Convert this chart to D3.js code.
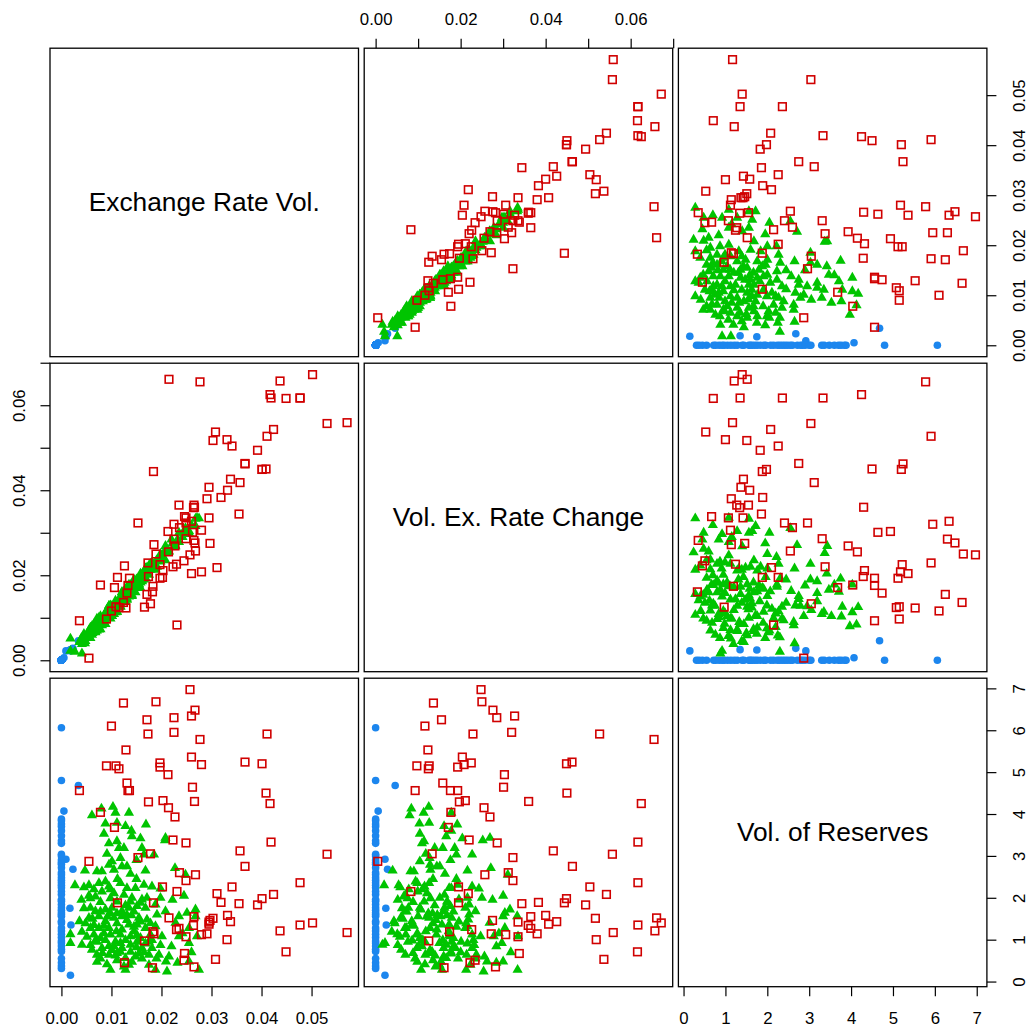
<!DOCTYPE html>
<html>
<head>
<meta charset="utf-8">
<script src="https://cdn.jsdelivr.net/npm/d3@7"></script>
<style>
  html, body { margin: 0; padding: 0; background: #fff; }
  svg { display: block; }
</style>
</head>
<body>
<svg id="chart" width="1030" height="1033"></svg>
<script>
// Variables of the scatterplot matrix, in row/column order
const variableNames = ["Exchange Rate Vol.", "Vol. Ex. Rate Change", "Vol. of Reserves"];

// Group 1 (blue dots)
const g1RateVol = [0.0018, 0.0019, 0.0017, 0.0023, 0.0009, 0.0005, 0.0034,
  0, 0, 0, 0, 0, 0, 0, 0, 0, 0, 0, 0, 0, 0, 0, 0, 0, 0, 0, 0, 0, 0, 0, 0,
  0, 0, 0, 0, 0, 0, 0, 0, 0, 0, 0, 0, 0, 0, 0, 0, 0, 0, 0, 0, 0, 0, 0, 0];
const g1RateChange = [0.0022, 0.0025, 0.0024, 0.0028, 0.0022, 0.0006, 0.0046,
  0, 0, 0, 0, 0, 0, 0, 0, 0, 0, 0, 0, 0, 0, 0, 0, 0, 0, 0, 0, 0, 0, 0, 0,
  0, 0, 0, 0, 0, 0, 0, 0, 0, 0, 0, 0, 0, 0, 0, 0, 0, 0, 0, 0, 0, 0, 0, 0];
const g1Reserves = [0.15, 1.35, 1.75, 2.68, 2.92, 4.07, 4.68,
  0.31, 0.37, 0.45, 0.55, 0.72, 0.77, 0.85, 0.92, 0.97, 1.05, 1.13, 1.21,
  1.28, 1.40, 1.44, 1.56, 1.60, 1.64, 1.70, 1.76, 1.84, 1.92, 1.96, 2.08,
  2.15, 2.24, 2.30, 2.36, 2.42, 2.48, 2.55, 2.60, 2.72, 2.80, 2.84, 2.90,
  3.00, 3.04, 3.30, 3.36, 3.48, 3.60, 3.70, 3.76, 3.84, 3.88, 4.80, 6.06];

// Group 2 (green triangles)
const g2RateVol = [
  0.0061,0.0080,0.0103,0.0108,0.0135,0.0088,0.0111,0.0128,0.0169,0.0085,
  0.0141,0.0158,0.0111,0.0115,0.0125,0.0161,0.0091,0.0165,0.0185,0.0101,
  0.0095,0.0121,0.0131,0.0071,0.0081,0.0105,0.0138,0.0168,0.0047,0.0027,
  0.0045,0.0055,0.0075,0.0088,0.0095,0.0118,0.0131,0.0148,0.0165,0.0181,
  0.0068,0.0081,0.0105,0.0125,0.0141,0.0161,0.0171,0.0188,0.0058,0.0068,
  0.0088,0.0101,0.0121,0.0135,0.0151,0.0168,0.0191,0.0036,0.0055,0.0075,
  0.0088,0.0105,0.0121,0.0155,0.0171,0.0151,0.0058,0.0075,0.0095,0.0121,
  0.0135,0.0168,0.0188,0.0018,0.0018,0.0041,0.0065,0.0078,0.0098,0.0118,
  0.0138,0.0158,0.0178,0.0061,0.0081,0.0105,0.0121,0.0138,0.0161,0.0181,
  0.0071,0.0095,0.0111,0.0128,0.0148,0.0175,0.0091,0.0125,0.0175,0.0098,
  0.0128,0.0188,0.0208,0.0207,0.0227,0.0248,0.0268,0.0268,0.0251,0.0235,
  0.0208,0.0198,0.0198,0.0255,0.0271,0.0235,0.0201,0.0255,0.0220,0.0195,
  0.0215,0.0209,0.0255,0.0275,0.0211,0.0045,0.0078,0.0111,0.0145,0.0048,
  0.0065,0.0085,0.0111,0.0131,0.0145,0.0051,0.0071,0.0088,0.0108,0.0128,
  0.0151,0.0168,0.0058,0.0078,0.0101,0.0118,0.0138,0.0155,0.0111,0.0141,
  0.0071,0.0161,0.0041,0.0098,0.0131,0.0158,0.0178,0.0098,0.0111,0.0138,
  0.0058,0.0151,0.0181,0.0198,
  0.0065,0.0098,0.0112,0.0150,0.0078,0.0128,0.0158,0.0092,0.0140,0.0062,
  0.0110,0.0145,0.0085,0.0068,0.0118,0.0175,0.0095,0.0150,0.0108,0.0165,
  0.0082,0.0135,0.0190,0.0232,0.0260,0.0242,0.0228,0.0222,0.0245,0.0118,
  0.0150,0.0095,0.0140,0.0055,0.0040];
const g2RateChange = [
  0.0080,0.0084,0.0125,0.0113,0.0178,0.0103,0.0126,0.0161,0.0192,0.0104,
  0.0166,0.0204,0.0114,0.0139,0.0158,0.0186,0.0118,0.0190,0.0227,0.0104,
  0.0128,0.0144,0.0151,0.0090,0.0082,0.0129,0.0163,0.0216,0.0040,0.0020,
  0.0058,0.0054,0.0098,0.0094,0.0115,0.0126,0.0173,0.0178,0.0193,0.0227,
  0.0066,0.0099,0.0121,0.0162,0.0151,0.0196,0.0216,0.0220,0.0077,0.0069,
  0.0106,0.0104,0.0160,0.0162,0.0176,0.0211,0.0220,0.0043,0.0059,0.0100,
  0.0085,0.0126,0.0153,0.0179,0.0218,0.0173,0.0069,0.0072,0.0128,0.0144,
  0.0156,0.0211,0.0216,0.0051,0.0022,0.0016,0.0071,0.0104,0.0098,0.0143,
  0.0175,0.0183,0.0227,0.0060,0.0097,0.0109,0.0160,0.0166,0.0188,0.0227,
  0.0070,0.0117,0.0129,0.0166,0.0160,0.0214,0.0116,0.0141,0.0223,0.0107,
  0.0156,0.0213,0.0269,0.0252,0.0271,0.0311,0.0316,0.0333,0.0304,0.0300,
  0.0235,0.0243,0.0250,0.0304,0.0335,0.0278,0.0247,0.0297,0.0284,0.0237,
  0.0256,0.0262,0.0300,0.0334,0.0254,0.0062,0.0073,0.0134,0.0183,0.0045,
  0.0085,0.0090,0.0135,0.0142,0.0190,0.0057,0.0076,0.0111,0.0116,0.0158,
  0.0179,0.0216,0.0052,0.0093,0.0128,0.0133,0.0177,0.0178,0.0135,0.0154,
  0.0098,0.0194,0.0038,0.0124,0.0145,0.0196,0.0213,0.0129,0.0114,0.0168,
  0.0075,0.0174,0.0230,0.0232,
  0.0078,0.0110,0.0135,0.0190,0.0088,0.0139,0.0170,0.0120,0.0168,0.0064,
  0.0118,0.0172,0.0098,0.0086,0.0150,0.0201,0.0101,0.0182,0.0140,0.0200,
  0.0088,0.0150,0.0235,0.0284,0.0318,0.0290,0.0268,0.0275,0.0300,0.0127,
  0.0176,0.0109,0.0178,0.0070,0.0052];
const g2Reserves = [
  3.97,4.13,4.17,4.03,4.03,3.77,3.79,3.71,3.75,3.53,
  3.47,3.42,3.35,3.19,3.19,3.19,3.05,3.03,3.03,2.87,
  2.79,2.75,2.75,2.63,2.63,2.67,2.57,2.65,2.65,2.30,
  2.25,2.30,2.35,2.39,2.27,2.35,2.23,2.23,2.31,2.27,
  2.03,2.15,2.11,2.07,2.00,1.96,2.00,1.84,1.76,1.68,
  1.72,1.76,1.68,1.76,1.80,1.76,1.60,1.44,1.52,1.56,
  1.44,1.52,1.56,1.52,1.48,1.36,1.28,1.28,1.28,1.24,
  1.36,1.28,1.32,1.13,0.92,0.88,1.12,1.04,1.12,1.12,
  1.08,1.04,1.12,0.76,0.80,0.84,0.80,0.88,0.80,0.80,
  0.64,0.64,0.68,0.56,0.60,0.64,0.41,0.36,0.40,0.28,
  0.28,0.28,3.43,3.37,2.71,2.55,1.72,1.56,1.64,1.56,
  1.68,2.22,2.00,1.28,1.08,1.08,1.08,0.92,0.84,0.64,
  0.60,0.48,0.48,0.28,0.24,1.75,1.67,1.63,1.67,1.39,
  1.35,1.33,1.39,1.47,1.31,1.07,0.95,0.99,0.95,0.99,
  0.95,0.91,0.87,0.55,0.75,0.71,0.71,0.67,0.51,0.47,
  0.47,0.55,1.19,1.63,1.59,1.43,1.39,1.99,1.91,1.91,
  1.99,1.11,0.99,0.87,
  2.20,2.20,2.45,2.45,1.90,1.82,1.88,1.55,1.58,1.50,
  1.20,1.20,1.15,0.98,0.92,0.95,0.85,0.82,0.62,0.70,
  0.68,0.40,0.55,0.45,0.70,1.15,1.40,1.95,2.05,2.95,
  2.90,3.30,3.60,2.05,1.95];

// Group 3 (red open squares)
const g3RateVol = [
  0.0257,0.0124,0.0189,0.0267,0.0260,0.0171,0.0225,0.0100,0.0173,0.0225,
  0.0411,0.0277,0.0129,0.0260,0.0090,0.0109,0.0115,0.0197,0.0197,0.0280,
  0.0213,0.0367,0.0401,0.0131,0.0136,0.0133,0.0036,0.0262,0.0409,0.0417,
  0.0174,0.0203,0.0214,0.0266,0.0227,0.0078,0.0106,0.0223,0.0249,0.0419,
  0.0357,0.0531,0.0153,0.0178,0.0055,0.0367,0.0236,0.0268,0.0249,0.0341,
  0.0477,0.0202,0.0231,0.0311,0.0319,0.0355,0.0424,0.0401,0.0392,0.0112,
  0.0184,0.0215,0.0265,0.0264,0.0332,0.0297,0.0303,0.0338,0.0295,0.0295,
  0.0235,0.0230,0.0183,0.0185,0.0291,0.0249,0.0280,0.0437,0.0477,0.0502,
  0.0571,0.0331,0.0166,0.0449,0.0246,0.0245,0.0308,0.0126,0.0182,0.0265];
const g3RateChange = [
  0.0248,0.0136,0.0250,0.0276,0.0327,0.0155,0.0285,0.0116,0.0229,0.0320,
  0.0527,0.0655,0.0123,0.0204,0.0097,0.0126,0.0124,0.0225,0.0193,0.0208,
  0.0303,0.0462,0.0449,0.0158,0.0193,0.0176,0.0093,0.0301,0.0450,0.0625,
  0.0197,0.0211,0.0255,0.0360,0.0269,0.0177,0.0171,0.0220,0.0286,0.0617,
  0.0418,0.0557,0.0323,0.0133,0.0005,0.0463,0.0312,0.0257,0.0323,0.0504,
  0.0617,0.0195,0.0083,0.0218,0.0383,0.0344,0.0543,0.0449,0.0494,0.0195,
  0.0444,0.0661,0.0365,0.0359,0.0400,0.0275,0.0517,0.0426,0.0407,0.0335,
  0.0365,0.0226,0.0174,0.0272,0.0380,0.0335,0.0306,0.0657,0.0617,0.0672,
  0.0559,0.0519,0.0125,0.0616,0.0338,0.0234,0.0537,0.0222,0.0161,0.0282];
const g3Reserves = [
  6.97,6.65,6.68,6.48,6.34,6.25,6.30,6.10,5.91,5.95,
  5.91,5.78,5.53,5.36,5.15,5.15,5.08,5.22,5.12,5.18,
  4.94,5.24,5.20,4.74,4.56,4.56,4.56,4.64,4.50,4.25,
  4.29,4.32,4.15,4.30,3.93,4.04,3.68,3.38,3.31,3.33,
  3.12,3.04,2.96,3.05,2.87,2.75,2.60,2.55,2.41,2.26,
  2.36,2.26,2.15,2.10,1.89,1.86,2.08,1.98,1.83,1.88,
  1.88,1.52,1.55,1.34,1.58,1.46,1.51,1.43,1.37,1.42,
  1.27,1.24,1.19,1.14,1.14,1.07,1.12,1.21,1.35,1.40,
  1.17,1.00,0.97,0.71,0.67,0.51,0.53,0.45,0.33,0.35];

// Axis ticks and their labels, per variable
const ticksRateVol = [0, 0.01, 0.02, 0.03, 0.04, 0.05];
const labelsRateVol = ["0.00", "0.01", "0.02", "0.03", "0.04", "0.05"];
const ticksRateChange = [0, 0.01, 0.02, 0.03, 0.04, 0.05, 0.06, 0.07];
const labelsRateChange = ["0.00", "", "0.02", "", "0.04", "", "0.06", ""];
const ticksReserves = [0, 1, 2, 3, 4, 5, 6, 7];
const labelsReserves = ["0", "1", "2", "3", "4", "5", "6", "7"];

// ---- assemble records ----
const groups = [
  { cols: [g1RateVol, g1RateChange, g1Reserves], color: "#1C86EE", shape: "circle" },
  { cols: [g2RateVol, g2RateChange, g2Reserves], color: "#00C400", shape: "triangle" },
  { cols: [g3RateVol, g3RateChange, g3Reserves], color: "#D00000", shape: "square" }
];
const records = [];
groups.forEach((grp, gi) => {
  grp.cols[0].forEach((_, i) => {
    records.push({ v: [grp.cols[0][i], grp.cols[1][i], grp.cols[2][i]], g: gi });
  });
});

const tickSets = [
  { values: ticksRateVol, labels: labelsRateVol },
  { values: ticksRateChange, labels: labelsRateChange },
  { values: ticksReserves, labels: labelsReserves }
];

// ---- layout ----
const cell = 308.5;
const colX = i => 50 + i * 314.2;
const rowY = i => 48.2 + i * 315;
const fontFamily = "'Liberation Sans', Arial, Helvetica, sans-serif";

// each variable's range widened by 4% on both sides
const domains = [0, 1, 2].map(k => {
  const [lo, hi] = d3.extent(records, d => d.v[k]);
  const pad = (hi - lo) * 0.04;
  return [lo - pad, hi + pad];
});
const xScale = c => d3.scaleLinear().domain(domains[c]).range([colX(c), colX(c) + cell]);
const yScale = r => d3.scaleLinear().domain(domains[r]).range([rowY(r) + cell, rowY(r)]);

const svg = d3.select("#chart");
const defs = svg.append("defs");

const triPath = "M0,-5.9L5.1,2.95L-5.1,2.95Z";
const sq = 7.6;

for (let r = 0; r < 3; r++) {
  for (let c = 0; c < 3; c++) {
    const x0 = colX(c), y0 = rowY(r);
    const panel = svg.append("g");
    if (r === c) {
      panel.append("text")
        .attr("x", x0 + cell / 2)
        .attr("y", y0 + cell / 2)
        .attr("text-anchor", "middle")
        .attr("dominant-baseline", "central")
        .attr("font-family", fontFamily)
        .attr("font-size", 26.3)
        .attr("fill", "#000")
        .text(variableNames[r]);
    } else {
      const id = `clip-${r}-${c}`;
      defs.append("clipPath").attr("id", id)
        .append("rect").attr("x", x0).attr("y", y0).attr("width", cell).attr("height", cell);
      const xs = xScale(c), ys = yScale(r);
      const pts = panel.append("g").attr("clip-path", `url(#${id})`);
      records.forEach(d => {
        const px = xs(d.v[c]), py = ys(d.v[r]);
        const grp = groups[d.g];
        if (grp.shape === "circle") {
          pts.append("circle").attr("cx", px).attr("cy", py).attr("r", 3.8)
            .attr("fill", grp.color);
        } else if (grp.shape === "triangle") {
          pts.append("path").attr("d", triPath)
            .attr("transform", `translate(${px},${py})`)
            .attr("fill", grp.color);
        } else {
          pts.append("rect").attr("x", px - sq / 2).attr("y", py - sq / 2)
            .attr("width", sq).attr("height", sq)
            .attr("fill", "none").attr("stroke", grp.color).attr("stroke-width", 1.6);
        }
      });
    }
    panel.append("rect")
      .attr("x", x0).attr("y", y0).attr("width", cell).attr("height", cell)
      .attr("fill", "none").attr("stroke", "#000").attr("stroke-width", 1.3);
  }
}

// ---- axes: bottom/top alternate by column, right/left alternate by row ----
function styleAxis(g) {
  g.select(".domain").remove();
  g.selectAll(".tick line").attr("stroke", "#000").attr("stroke-width", 1.2);
  g.selectAll("text").attr("font-family", fontFamily).attr("font-size", 16.8).attr("fill", "#000");
}

for (let k = 0; k < 3; k++) {
  const ts = tickSets[k];
  const inDomain = ts.values.filter(v => v >= domains[k][0] - 1e-4 && v <= domains[k][1] + 1e-3);
  const fmtIn = d => ts.labels[ts.values.indexOf(d)];

  // horizontal axis for column k
  if (k % 2 === 0) {
    svg.append("g")
      .attr("transform", `translate(0,${rowY(2) + cell})`)
      .call(d3.axisBottom(xScale(k)).tickValues(inDomain).tickFormat(fmtIn)
        .tickSizeInner(9.5).tickSizeOuter(0).tickPadding(15.5))
      .call(styleAxis);
  } else {
    svg.append("g")
      .attr("transform", `translate(0,${rowY(0)})`)
      .call(d3.axisTop(xScale(k)).tickValues(inDomain).tickFormat(fmtIn)
        .tickSizeInner(9.5).tickSizeOuter(0).tickPadding(13.5))
      .call(styleAxis);
  }

  // vertical axis for row k, labels parallel to the axis
  if (k % 2 === 0) {
    const g = svg.append("g")
      .attr("transform", `translate(${colX(2) + cell},0)`)
      .call(d3.axisRight(yScale(k)).tickValues(inDomain).tickFormat(fmtIn)
        .tickSizeInner(9.5).tickSizeOuter(0))
      .call(styleAxis);
    g.selectAll(".tick text")
      .attr("x", null).attr("dy", null)
      .attr("text-anchor", "middle")
      .attr("transform", "translate(38,0) rotate(-90)");
  } else {
    const g = svg.append("g")
      .attr("transform", `translate(${colX(0)},0)`)
      .call(d3.axisLeft(yScale(k)).tickValues(inDomain).tickFormat(fmtIn)
        .tickSizeInner(9.5).tickSizeOuter(0))
      .call(styleAxis);
    g.selectAll(".tick text")
      .attr("x", null).attr("dy", null)
      .attr("text-anchor", "middle")
      .attr("transform", "translate(-25,0) rotate(-90)");
  }
}
</script>
</body>
</html>
